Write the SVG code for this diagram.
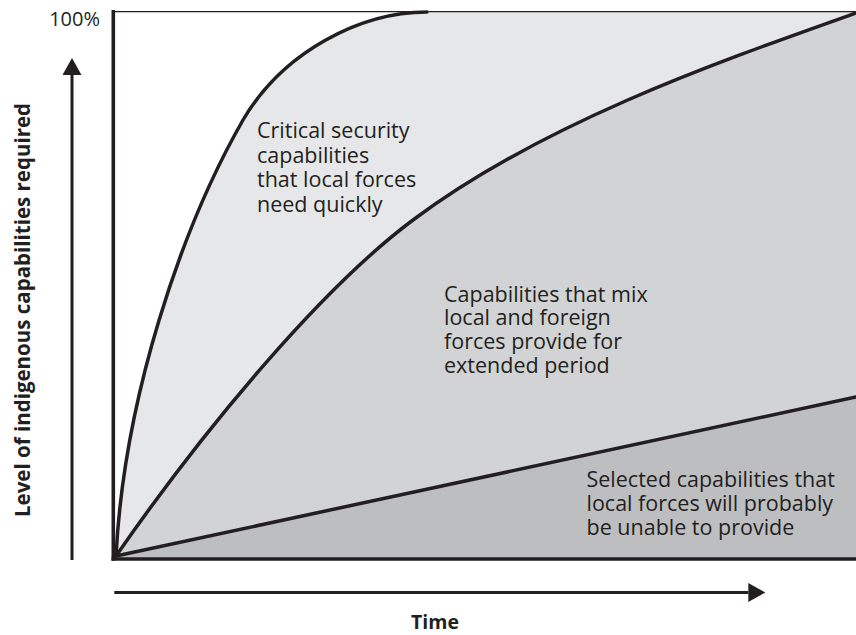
<svg xmlns="http://www.w3.org/2000/svg" width="856" height="635" viewBox="0 0 856 635">
<style>
.curve{fill:none;stroke:#231f20;stroke-width:3.5;stroke-linejoin:round;stroke-linecap:round}
.lbl{font-family:"Open Sans","Noto Sans","Liberation Sans",sans-serif;font-size:21.5px;fill:#231f20}
.ax{font-family:"Open Sans","Noto Sans","Liberation Sans",sans-serif;font-weight:bold;fill:#231f20}
.arrow{stroke:#231f20;stroke-width:3;fill:none}
</style>
<defs>
<marker id="ah" markerWidth="17" markerHeight="19" refX="0" refY="9.5" orient="auto" markerUnits="userSpaceOnUse">
<path d="M0,0 L17,9.5 L0,19 Z" fill="#231f20"/>
</marker>
</defs>
<rect width="856" height="635" fill="#ffffff"/>
<g id="region-critical">
<path d="M116,556 C124,400 180,230 243,120 C283,52 360,12 427,12 L856,12 L856,13 C715,63 543,123 413,220 C323,287 206,426 116,556 Z" fill="#e6e7e8"/>
</g>
<g id="region-mixed">
<path d="M116,556 C206,426 323,287 413,220 C543,123 715,63 856,13 L856,397 Z" fill="#d1d3d4"/>
</g>
<g id="region-selected">
<path d="M116,556 L856,397 L856,559 L116,559 Z" fill="#bcbec0"/>
</g>
<g id="boundaries">
<path class="curve" d="M116,556 C124,400 180,230 243,120 C283,52 360,12 427,12"/>
<path class="curve" d="M116,556 C206,426 323,287 413,220 C543,123 715,63 856,13"/>
<path class="curve" d="M116,556 L856,397"/>
</g>
<g id="frame">
<line x1="113" y1="11.6" x2="856" y2="11.6" stroke="#231f20" stroke-width="1.4"/>
<line x1="113.3" y1="10" x2="113.3" y2="560.8" stroke="#231f20" stroke-width="3.6"/>
<line x1="111.5" y1="559" x2="856" y2="559" stroke="#231f20" stroke-width="3.6"/>
</g>
<g id="connectors">
<line class="arrow" x1="72" y1="560" x2="72" y2="75" marker-end="url(#ah)"/>
<line class="arrow" x1="114.3" y1="592.5" x2="748.3" y2="592.5" marker-end="url(#ah)" stroke-width="3.4"/>
</g>
<g id="label-100">
<text class="lbl" x="100" y="26" text-anchor="end" style="font-size:20px">100%</text>
</g>
<g id="label-critical">
<text class="lbl" x="257" y="138">Critical security</text>
<text class="lbl" x="257" y="162.5">capabilities</text>
<text class="lbl" x="257" y="187">that local forces</text>
<text class="lbl" x="257" y="211.5">need quickly</text>
</g>
<g id="label-mixed">
<text class="lbl" x="444" y="301.5">Capabilities that mix</text>
<text class="lbl" x="444" y="325.3">local and foreign</text>
<text class="lbl" x="444" y="349">forces provide for</text>
<text class="lbl" x="444" y="372.7">extended period</text>
</g>
<g id="label-selected">
<text class="lbl" x="586.5" y="486.7">Selected capabilities that</text>
<text class="lbl" x="586.5" y="510.8">local forces will probably</text>
<text class="lbl" x="586.5" y="535">be unable to provide</text>
</g>
<g id="axis-y-label">
<text class="ax" transform="translate(29.5,310) rotate(-90)" text-anchor="middle" style="font-size:20.5px">Level of indigenous capabilities required</text>
</g>
<g id="axis-x-label">
<text class="ax" x="435" y="629" text-anchor="middle" style="font-size:19.5px">Time</text>
</g>
</svg>
